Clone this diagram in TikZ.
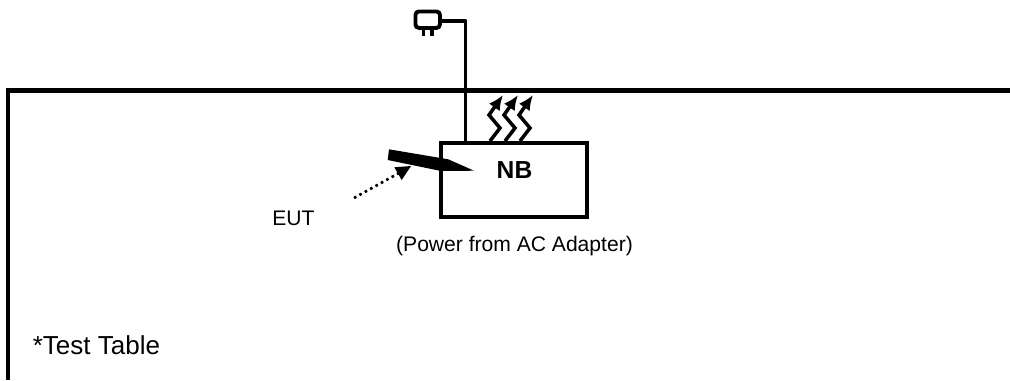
\documentclass[tikz,border=0pt]{standalone}
\usepackage{fontspec}
\setmainfont{Liberation Sans}
\usetikzlibrary{arrows.meta}

\begin{document}
\begin{tikzpicture}[x=0.02cm,y=-0.02cm,
    thick line/.style = {line width=2.3pt},
    box/.style = {draw, thick line, minimum width=2.93cm, minimum height=1.48cm},
    plug/.style = {draw, line width=2.2pt, rounded corners=2pt, minimum width=0.49cm, minimum height=0.33cm},
    heat/.style = {line width=2pt, -{Latex[length=8.5pt,width=7.5pt]}},
    caption/.style = {inner sep=0pt, font=\fontsize{#1}{#1}\selectfont}]
      \useasboundingbox (0,0) rectangle (1010,380);

      % table edge
      \draw[thick line] (1010,90.5) -- (8,90.5) -- (8,380);

      \node[box] (nb) at (513.75,180) {};
      \node[plug] (power) at (427.7,19.7) {};
      \coordinate (inlet) at (465.7,143);
      \draw[line width=2pt, line join=round] (power.east) ++(0,1.3) -| (inlet);

      % prongs
      \fill (421.7,28) rectangle (425.2,36);
      \fill (430,28) rectangle (433.5,36);

      % heat
      \draw[heat] (490,141) -- (500,128) -- (489,115) -- (503,95);
      \draw[heat] (505,141) -- (515,128) -- (504,115) -- (518,95);
      \draw[heat] (520,141) -- (530,128) -- (519,115) -- (533,95);

      % probe
      \fill (389,149.3) -- (448.3,159.3) -- (474,170.7) -- (441,171) -- (387.7,160) -- cycle;

      \coordinate (eutfoot) at (354,198);
      \coordinate (euttip) at (411,166);
      \draw[line width=1.5pt, dash pattern=on 1.5pt off 2pt] (eutfoot) -- (399,173);
      \fill (394.3,167.3) -- (euttip) -- (401.7,180) -- cycle;

      \node[caption=12] (eut) at (293.5,218) {EUT};
      \node[caption=14, font=\fontsize{14}{14}\selectfont\bfseries] (nbname) at (514.5,170.5) {NB};
      \node[caption=12] (supply) at (514.5,246) {(Power from AC Adapter)};
      \node[caption=14.8, anchor=west] (table) at (32.5,345) {*Test Table};
    \end{tikzpicture}
\end{document}
